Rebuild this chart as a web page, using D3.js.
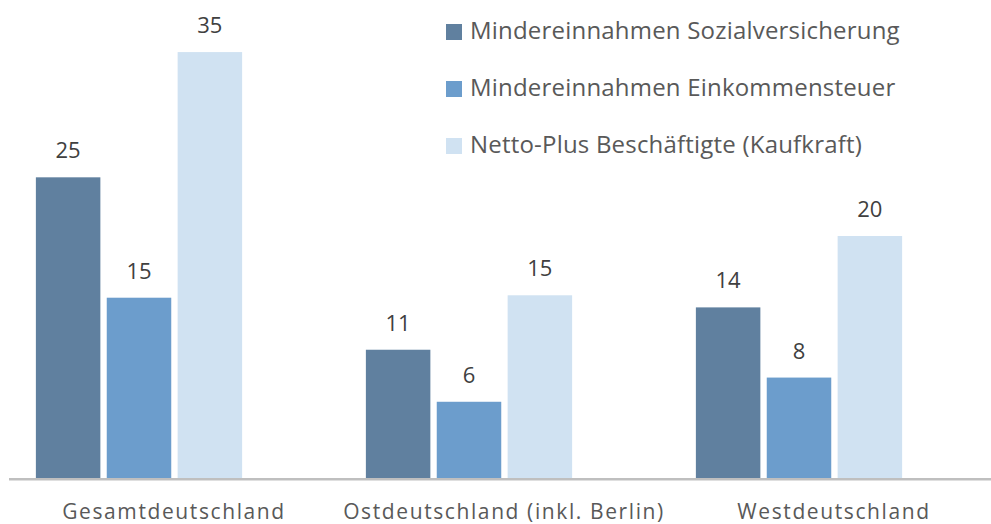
<!DOCTYPE html>
<html>
<head>
<meta charset="utf-8">
<script src="https://cdn.jsdelivr.net/npm/d3@7"></script>
<style>
    body { margin: 0; background: #fff; }
    svg { display: block; font-family: 'Open Sans', sans-serif; }
</style>
</head>
<body>
<script>
const regions = ['Gesamtdeutschland', 'Ostdeutschland (inkl. Berlin)', 'Westdeutschland'];
const seriesNames = ['Mindereinnahmen Sozialversicherung', 'Mindereinnahmen Einkommensteuer', 'Netto-Plus Beschäftigte (Kaufkraft)'];
const sozialversicherung = [24.85, 10.6, 14.1];
const einkommensteuer = [14.9, 6.3, 8.3];
const nettoPlus = [35.2, 15.1, 20.0];
const seriesColors = ['#60809f', '#6c9dcc', '#d0e2f2'];

(function () {
    const width = 991;
    const height = 524;
    const baseline = 478;

    const svg = d3.select('body')
        .append('svg')
        .attr('width', width)
        .attr('height', height);

    const seriesValues = [sozialversicherung, einkommensteuer, nettoPlus];
    const rows = regions.map((r, i) => ({
        region: r,
        values: seriesNames.map((s, j) => ({ series: s, value: seriesValues[j][i] }))
    }));

    const x0 = d3.scaleBand()
        .domain(regions)
        .range([-26, 964])
        .paddingInner(0.375)
        .paddingOuter(0.1875);

    const x1 = d3.scaleBand()
        .domain(seriesNames)
        .range([0, x0.bandwidth()])
        .paddingInner(0.09);

    const y = d3.scaleLinear()
        .domain([0, 40])
        .range([baseline, baseline - 40 * 12.1]);

    const color = d3.scaleOrdinal(seriesNames, seriesColors);
    const fmt = d3.format('.0f');

    const groups = svg.selectAll('g.group')
        .data(rows)
        .join('g')
        .attr('class', 'group')
        .attr('transform', d => `translate(${x0(d.region)},0)`);

    groups.selectAll('rect')
        .data(d => d.values)
        .join('rect')
        .attr('x', d => x1(d.series))
        .attr('y', d => y(d.value))
        .attr('width', x1.bandwidth())
        .attr('height', d => y(0) - y(d.value))
        .attr('fill', d => color(d.series));

    groups.selectAll('text.value')
        .data(d => d.values)
        .join('text')
        .attr('class', 'value')
        .attr('x', d => x1(d.series) + x1.bandwidth() / 2)
        .attr('y', d => y(d.value) - 19)
        .attr('text-anchor', 'middle')
        .attr('fill', '#404040')
        .style('font-size', '22px')
        .text(d => fmt(d.value));

    // axis line
    svg.append('line')
        .attr('x1', 9)
        .attr('x2', width)
        .attr('y1', baseline + 1.2)
        .attr('y2', baseline + 1.2)
        .attr('stroke', '#bfbfbf')
        .attr('stroke-width', 2.6);

    // category labels sit a bit right of their bar groups in the original
    svg.selectAll('text.cat')
        .data(regions)
        .join('text')
        .attr('class', 'cat')
        .attr('x', d => x0(d) + x0.bandwidth() / 2 + 35)
        .attr('y', 519)
        .attr('text-anchor', 'middle')
        .attr('fill', '#595959')
        .style('font-size', '21px')
        .style('letter-spacing', '1.6px')
        .text(d => d);

    const legend = svg.append('g')
        .attr('transform', 'translate(446,24)');

    const item = legend.selectAll('g')
        .data(seriesNames)
        .join('g')
        .attr('transform', (d, i) => `translate(0,${i * 57})`);

    item.append('rect')
        .attr('width', 16)
        .attr('height', 16)
        .attr('fill', d => color(d));

    item.append('text')
        .attr('x', 24)
        .attr('y', 15)
        .attr('fill', '#595959')
        .style('font-size', '24px')
        .style('letter-spacing', '0.2px')
        .text(d => d);
})();
</script>
</body>
</html>
